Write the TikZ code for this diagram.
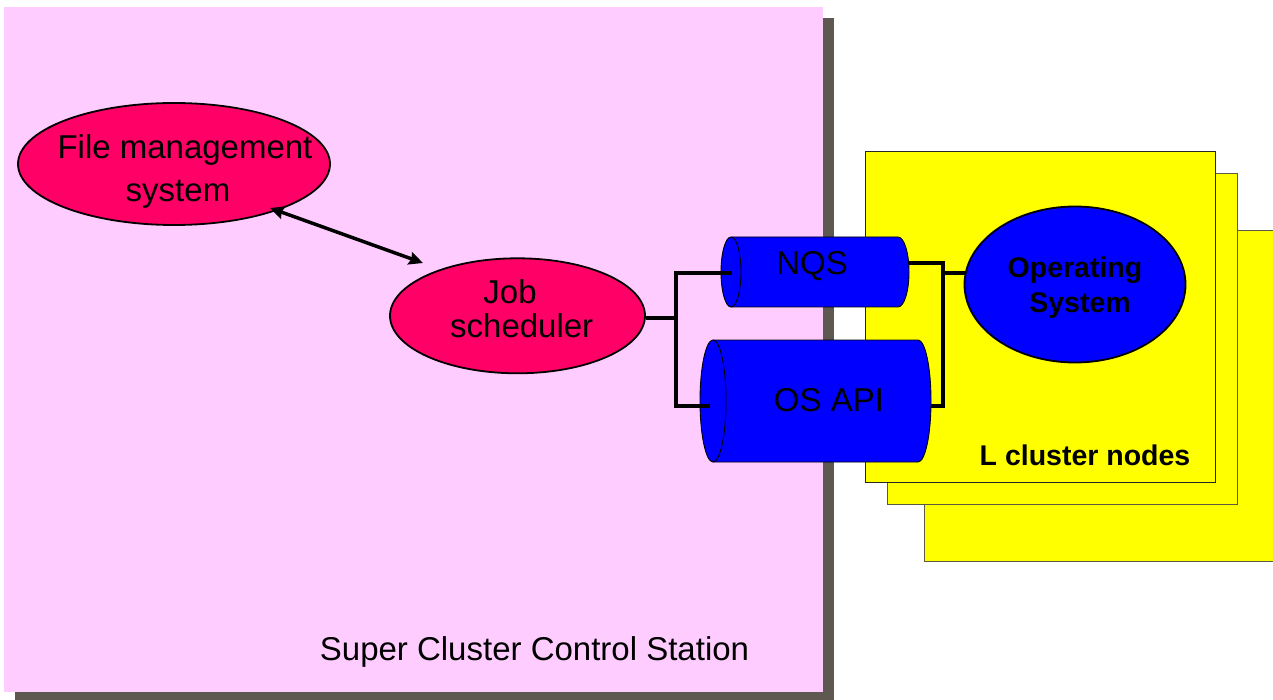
\documentclass[tikz,border=0pt]{standalone}
\usepackage{fontspec}
\setmainfont{Liberation Sans}
\usetikzlibrary{shapes.geometric,arrows.meta,calc}

\definecolor{stationpink}{HTML}{FFCCFF}
\definecolor{stationshadow}{HTML}{5F5850}
\definecolor{nodeyellow}{HTML}{FFFF00}
\definecolor{nodeedge}{HTML}{5A5A40}
\definecolor{procred}{HTML}{FF0066}
\definecolor{sysblue}{HTML}{0000FF}

\tikzset{
  label/.style={inner sep=0pt, anchor=base, font=\fontsize{33}{40}\selectfont},
  boldlabel/.style={inner sep=0pt, anchor=base, font=\bfseries\fontsize{28.5}{34}\selectfont},
  process/.style={ellipse, draw=black, line width=1.8pt, fill=procred, inner sep=0pt},
  ossys/.style={ellipse, draw=black, line width=1.8pt, fill=sysblue, inner sep=0pt},
  clusterbox/.style={draw=nodeedge, line width=1pt, fill=nodeyellow},
  cylbody/.style={draw=black, line width=0.9pt, fill=sysblue},
  conn/.style={draw=black, line width=3.8pt},
  biarrow/.style={draw=black, line width=3.5pt,
    {Stealth[length=14pt,width=13pt,inset=2pt]}-{Stealth[length=14pt,width=13pt,inset=2pt]}},
}

\begin{document}
\begin{tikzpicture}[x=1pt,y=-1pt]
\useasboundingbox (0,0) rectangle (1273,700);
\clip (0,0) rectangle (1273,700);
\fill[white] (0,0) rectangle (1273,700);

% control station panel with its drop shadow
\fill[stationshadow] (15,18) rectangle (834,704);
\fill[stationpink] (4,7) rectangle (823,692);
\node[label] (station) at (534.5,660) {Super Cluster Control Station};

% stack of cluster node sheets, back to front
\draw[clusterbox] (924,231) rectangle (1290,561);
\draw[clusterbox] (887,174) rectangle (1237,504);
\draw[clusterbox, draw=black!85] (865,152) rectangle (1215,482);
\node[boldlabel] (lnodes) at (1085,465) {L cluster nodes};

% processes on the control station
\node[process, minimum width=312pt, minimum height=122pt] (fms) at (174,164) {};
\node[label] (fmsA) at (185,158.3) {File management};
\node[label] (fmsB) at (178,201.7) {system};

\node[process, minimum width=255pt, minimum height=115pt] (js) at (517.5,315.8) {};
\node[label] (jsA) at (510,304) {Job};
\node[label] (jsB) at (521.7,337.7) {scheduler};

\draw[biarrow] ($(fms.center)+(96,44)$) -- ($(js.center)+(-94.5,-52.8)$);

% operating system on the cluster nodes
\node[ossys, minimum width=221pt, minimum height=156pt] (os) at (1075,284.5) {};
\node[boldlabel] (osA) at (1075,277.3) {Operating};
\node[boldlabel] (osB) at (1080,312.7) {System};

% NQS interface cylinder
\node[inner sep=0pt, minimum width=188pt, minimum height=70pt] (nqs) at (815,272) {};
\path[cylbody] (731,237) -- (898,237)
  arc[start angle=-90, end angle=90, x radius=11, y radius=35]
  -- (731,307)
  arc[start angle=90, end angle=270, x radius=10, y radius=35] -- cycle;
\draw[line width=0.9pt] (731,237) arc[start angle=-90, end angle=90, x radius=10, y radius=35];
\node[label] (nqsT) at (812,275) {NQS};

% OS API interface cylinder
\node[inner sep=0pt, minimum width=231pt, minimum height=122pt] (api) at (815.5,401) {};
\path[cylbody] (713,340) -- (918,340)
  arc[start angle=-90, end angle=90, x radius=13, y radius=61]
  -- (713,462)
  arc[start angle=90, end angle=270, x radius=13, y radius=61] -- cycle;
\draw[line width=0.9pt] (713,340) arc[start angle=-90, end angle=90, x radius=13, y radius=61];
\node[label] (apiT) at (829,411) {OS API};

% wiring between scheduler, interfaces and the operating system
\coordinate (jl) at (676,317.7);
\coordinate (jr) at (943,273);
\coordinate (nqsIn) at ($(nqs.west)+(11,1)$);
\coordinate (apiIn) at ($(api.west)+(10,5)$);
\coordinate (nqsOut) at ($(nqs.east)+(0,-9)$);
\coordinate (apiOut) at ($(api.east)+(0,5)$);

\draw[conn] (js.east |- jl) -- (jl);
\draw[conn] (nqsIn) -- (nqsIn -| jl) -- (apiIn -| jl) -- (apiIn);
\draw[conn] (nqsOut) -- (nqsOut -| jr) -- (apiOut -| jr) -- (apiOut);
\draw[conn] (os.174 -| jr) -- (os.174);
\end{tikzpicture}
\end{document}
